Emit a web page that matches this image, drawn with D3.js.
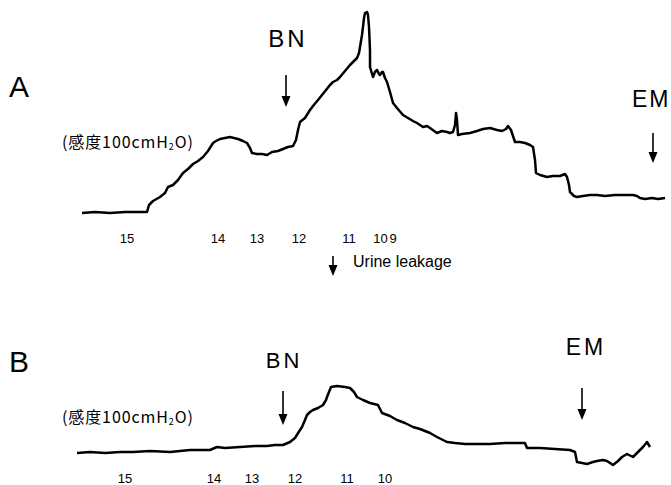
<!DOCTYPE html>
<html>
<head>
<meta charset="utf-8">
<script src="https://cdn.jsdelivr.net/npm/d3@7"></script>
<style>
  body { margin: 0; background: #fff; }
  svg { display: block; }
  text { font-family: "Liberation Sans", Arial, sans-serif; fill: #000; }
  .jp { font-family: "Noto Sans CJK JP", "Liberation Sans", sans-serif; }
</style>
</head>
<body>
<div id="chart"></div>
<script>
// trace A: [time, pressure]
const traceA = [
  [10,-1],[23,0],[38,-1],[53,0],[68,0],[75,0],[77,7],[81,11],[88,15],[93,19],[96,25],[101,27],
  [106,32],[111,39],[116,43],[121,48],[126,51],[131,55],[136,61],[141,69],[144,71],[148,73],
  [153,74],[158,75],[162,74],[166,73],[171,71],[175,69],[178,64],[180,59],[185,58],[190,58],
  [195,57],[200,60],[206,61],[211,63],[216,65],[221,66],[224,72],[226,82],[228,90],[233,94],
  [238,102],[241,106],[246,112],[250,117],[254,122],[258,127],[261,130],[265,132],[268,135],
  [273,141],[278,147],[282,151],[285,154],[287,159],[288,165],[290,177],[291,185],[292,194],
  [293,199],[295,200],[296,197],[297,185],[298,162],[298,145],[301,135],[303,140],[305,142],
  [307,138],[308,137],[310,140],[311,140],[313,134],[315,130],[318,120],[321,109],[325,104],
  [331,97],[336,94],[341,91],[345,89],[348,87],[351,85],[355,86],[358,84],[365,79],[370,81],
  [375,80],[378,79],[381,80],[383,87],[384,99],[385,92],[386,77],[390,78],[398,79],[405,81],
  [411,83],[418,84],[425,82],[430,81],[434,83],[436,86],[439,82],[443,70],[448,70],[453,69],
  [458,67],[461,65],[463,52],[464,39],[468,37],[475,35],[481,36],[488,36],[493,38],[495,35],
  [497,27],[498,20],[502,16],[505,15],[511,16],[518,17],[525,17],[533,16],[543,17],[553,17],
  [561,17],[565,16],[568,14],[573,13],[580,14],[586,13],[593,14]
];

// trace B
const traceB = [
  [5,0],[18,1],[33,0],[48,1],[61,1],[78,2],[98,1],[118,3],[128,3],[138,3],[145,6],[153,5],
  [168,6],[183,7],[195,7],[203,8],[211,8],[218,11],[223,15],[228,23],[230,26],[233,33],
  [235,38],[238,41],[241,43],[246,45],[251,48],[254,53],[255,56],[257,61],[259,66],[265,67],
  [273,66],[278,65],[282,61],[285,56],[291,53],[298,50],[306,48],[308,44],[310,40],[318,37],
  [325,33],[333,30],[341,26],[348,24],[358,20],[365,16],[375,11],[383,10],[393,9],[401,9],
  [418,9],[433,10],[453,10],[455,5],[468,5],[483,4],[498,3],[503,1],[505,-9],[510,-10],
  [515,-11],[521,-9],[525,-8],[531,-7],[535,-8],[538,-10],[541,-12],[546,-8],[550,-4],
  [555,-1],[561,-4],[566,1],[571,6],[575,11],[578,6]
];

// event arrows [label, time]
const eventsA = [["BN", 214], ["EM", 581]];
const eventsB = [["BN", 211], ["EM", 510]];
const leakageTime = 261;

// numbered marks under each trace
const marksA = [["15", 55], ["14", 146], ["13", 185], ["12", 227], ["11", 277], ["10", 308.5], ["9", 321]];
const marksB = [["15", 53], ["14", 142], ["13", 180], ["12", 223], ["11", 275], ["10", 313]];

const width = 671;
const height = 485;

const svg = d3.select("#chart")
  .append("svg")
  .attr("width", width)
  .attr("height", height);

svg.append("rect").attr("width", width).attr("height", height).attr("fill", "#fff");

const x = d3.scaleLinear().domain([0, 600]).range([72, 672]);
const yA = d3.scaleLinear().domain([0, 200]).range([212, 12]);
const yB = d3.scaleLinear().domain([0, 200]).range([453, 253]);

function drawArrow(xpos, y0, y1) {
  svg.append("line")
    .attr("x1", xpos).attr("x2", xpos)
    .attr("y1", y0).attr("y2", y1 - 8)
    .attr("stroke", "#000").attr("stroke-width", 1.6);
  svg.append("path")
    .attr("d", `M${xpos - 4.5},${y1 - 11} L${xpos + 4.5},${y1 - 11} L${xpos},${y1} Z`)
    .attr("fill", "#000");
}

function drawPanel(data, y, panel, events, marks, opts) {
  const line = d3.line()
    .x(d => x(d[0]))
    .y(d => y(d[1]));

  svg.append("path")
    .datum(data)
    .attr("d", line)
    .attr("fill", "none")
    .attr("stroke", "#000")
    .attr("stroke-width", 2.5)
    .attr("stroke-linejoin", "round");

  svg.append("text")
    .attr("x", 9).attr("y", opts.panelY)
    .style("font-size", "30px")
    .text(panel);

  const sens = svg.append("text")
    .attr("class", "jp")
    .attr("x", 62).attr("y", opts.sensY)
    .style("font-size", "16px")
    .style("letter-spacing", "0.9px");
  sens.append("tspan").text("(感度100cmH");
  sens.append("tspan").style("font-size", "9px").attr("dy", 2).text("2");
  sens.append("tspan").attr("dy", -2).text("O)");

  events.forEach(([label, t], i) => {
    const e = opts.events[i];
    svg.append("text")
      .attr("x", x(t) + e.dx).attr("y", e.textY)
      .attr("text-anchor", e.anchor || "middle")
      .style("font-size", e.size + "px")
      .style("letter-spacing", e.spacing + "px")
      .text(label);
    drawArrow(x(t), e.y0, e.y1);
  });

  svg.selectAll(null)
    .data(marks)
    .enter().append("text")
    .attr("x", d => x(d[1]))
    .attr("y", opts.markY)
    .attr("text-anchor", "middle")
    .style("font-size", "13px")
    .text(d => d[0]);
}

drawPanel(traceA, yA, "A", eventsA, marksA, {
  panelY: 97, sensY: 148, markY: 243,
  events: [
    { dx: 2, textY: 47, size: 24, spacing: 3, y0: 75, y1: 107 },
    { dx: -21, textY: 107, size: 23, spacing: 2, anchor: "start", y0: 133, y1: 163 }
  ]
});

drawPanel(traceB, yB, "B", eventsB, marksB, {
  panelY: 372, sensY: 423, markY: 483,
  events: [
    { dx: 1, textY: 368, size: 22, spacing: 3, y0: 391, y1: 425 },
    { dx: 4, textY: 355, size: 23, spacing: 3, y0: 388, y1: 420 }
  ]
});

// urine leakage marker
drawArrow(x(leakageTime), 256, 276);
svg.append("text")
  .attr("x", x(leakageTime) + 20).attr("y", 267)
  .style("font-size", "16px")
  .text("Urine leakage");
</script>
</body>
</html>
